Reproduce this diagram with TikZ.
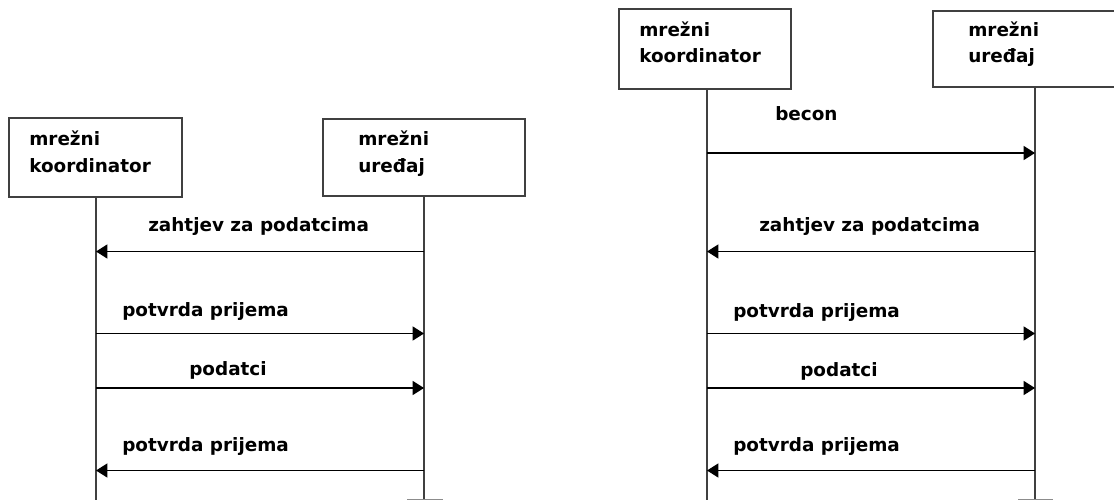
\documentclass[tikz,border=0pt]{standalone}
\usepackage{fontspec}
\setmainfont{DejaVu Sans}
\usetikzlibrary{arrows.meta}
\begin{document}
\begin{tikzpicture}[x=0.75pt,y=-0.75pt,
  box/.style={draw=black!75, line width=1pt, rectangle, inner sep=0pt, fill=white},
  lbl/.style={anchor=base west, inner sep=0pt, font=\fontsize{13.8}{16}\selectfont\bfseries},
  life/.style={draw=black!75, line width=1pt},
  msg/.style={draw=black, line width=1pt, -{Triangle[length=8.5pt,width=10.5pt]}},
  tickline/.style={draw=black!45, line width=1pt}]
\useasboundingbox (0,0) rectangle (1114,500);
\clip (0,0) rectangle (1114,500);

% ---------- left diagram ----------
\node[box, minimum width={173*0.75pt}, minimum height={79*0.75pt}] (A) at (95.5,157.5) {};
\node[box, minimum width={202*0.75pt}, minimum height={77*0.75pt}] (B) at (424,157.5) {};
\node[lbl] (A1) at (29,145.5) {mrežni};
\node[lbl] (A2) at (29,172) {koordinator};
\node[lbl] (B1) at (358,145.5) {mrežni};
\node[lbl] (B2) at (358,172) {uređaj};

\coordinate (Aend) at (96,500);
\coordinate (Bend) at (424,500);
\draw[life] (A.south -| Aend) -- (Aend);
\draw[life] (B.south -| Bend) -- (Bend);

\coordinate (a1) at (96,251.5);  \coordinate (b1) at (424,251.5);
\coordinate (a2) at (96,333.5);  \coordinate (b2) at (424,333.5);
\coordinate (a3) at (96,388);    \coordinate (b3) at (424,388);
\coordinate (a4) at (96,470.5);  \coordinate (b4) at (424,470.5);
\draw[msg] (b1) -- (a1);
\draw[msg] (a2) -- (b2);
\draw[msg] (a3) -- (b3);
\draw[msg] (b4) -- (a4);

\node[lbl] (L1) at (148,231.5) {zahtjev za podatcima};
\node[lbl] (L2) at (122,316.5) {potvrda prijema};
\node[lbl] (L3) at (189,375.5) {podatci};
\node[lbl] (L4) at (122,451.5) {potvrda prijema};

\coordinate (tl1) at (407,499.5); \coordinate (tl2) at (443,499.5);
\draw[tickline] (tl1) -- (tl2);

% ---------- right diagram ----------
\node[box, minimum width={172*0.75pt}, minimum height={80*0.75pt}] (C) at (705,49) {};
\node[box, minimum width={204*0.75pt}, minimum height={76*0.75pt}] (D) at (1035,49) {};
\node[lbl] (C1) at (639,36) {mrežni};
\node[lbl] (C2) at (639,62) {koordinator};
\node[lbl] (D1) at (968,36) {mrežni};
\node[lbl] (D2) at (968,62.5) {uređaj};

\coordinate (Cend) at (707,500);
\coordinate (Dend) at (1035,500);
\draw[life] (C.south -| Cend) -- (Cend);
\draw[life] (D.south -| Dend) -- (Dend);

\coordinate (c0) at (707,153);    \coordinate (d0) at (1035,153);
\coordinate (c1) at (707,251.5);  \coordinate (d1) at (1035,251.5);
\coordinate (c2) at (707,333.5);  \coordinate (d2) at (1035,333.5);
\coordinate (c3) at (707,388);    \coordinate (d3) at (1035,388);
\coordinate (c4) at (707,470.5);  \coordinate (d4) at (1035,470.5);
\draw[msg] (c0) -- (d0);
\draw[msg] (d1) -- (c1);
\draw[msg] (c2) -- (d2);
\draw[msg] (c3) -- (d3);
\draw[msg] (d4) -- (c4);

\node[lbl] (R0) at (775,120) {becon};
\node[lbl] (R1) at (759,231.5) {zahtjev za podatcima};
\node[lbl] (R2) at (733,317) {potvrda prijema};
\node[lbl] (R3) at (800,376) {podatci};
\node[lbl] (R4) at (733,451.5) {potvrda prijema};

\coordinate (tr1) at (1018,499.5); \coordinate (tr2) at (1053,499.5);
\draw[tickline] (tr1) -- (tr2);
\end{tikzpicture}
\end{document}
